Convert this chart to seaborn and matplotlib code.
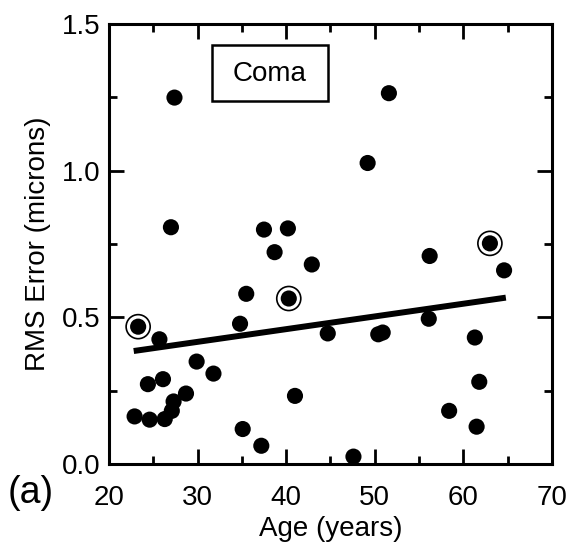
import matplotlib
matplotlib.use("Agg")
import matplotlib.pyplot as plt
from matplotlib.patches import Rectangle
from matplotlib.ticker import MultipleLocator
import seaborn as sns
import pandas as pd

age = [23.3, 25.7, 35.5, 34.8, 40.3, 44.7, 29.9, 31.8, 24.4, 26.1,
       28.7, 27.3, 27.1, 22.9, 24.6, 26.3, 41.0, 35.1, 37.2, 38.7,
       42.9, 27.4, 27.0, 37.5, 40.2, 51.6, 49.2, 63.0, 56.2, 64.6,
       56.1, 50.4, 50.9, 61.3, 61.8, 58.4, 61.5, 47.6]
rms = [0.468, 0.425, 0.580, 0.478, 0.564, 0.445, 0.349, 0.308, 0.272, 0.289,
       0.240, 0.213, 0.181, 0.162, 0.151, 0.153, 0.232, 0.119, 0.062, 0.722,
       0.680, 1.249, 0.807, 0.799, 0.803, 1.264, 1.026, 0.752, 0.709, 0.660,
       0.495, 0.442, 0.448, 0.431, 0.280, 0.181, 0.127, 0.025]
circled = [True, False, False, False, True, False, False, False, False, False,
           False, False, False, False, False, False, False, False, False, False,
           False, False, False, False, False, False, False, True, False, False,
           False, False, False, False, False, False, False, False]

fit_age = [22.8, 64.8]
fit_rms = [0.385, 0.567]

x_ticks = [20, 30, 40, 50, 60, 70]
y_ticks = [0.0, 0.5, 1.0, 1.5]
y_tick_labels = ["0.0", "0.5", "1.0", "1.5"]

df = pd.DataFrame({"age": age, "rms": rms, "circled": circled})
fit = pd.DataFrame({"age": fit_age, "rms": fit_rms})

sns.set_style("ticks")
plt.rcParams["font.family"] = ["Liberation Sans", "DejaVu Sans"]
plt.rcParams["text.color"] = "black"
plt.rcParams["axes.labelcolor"] = "black"
plt.rcParams["xtick.color"] = "black"
plt.rcParams["ytick.color"] = "black"

fig = plt.figure(figsize=(5.72, 5.51), dpi=100)
ax = fig.add_axes([0.1904, 0.158, 0.7745, 0.7985])

sns.lineplot(data=fit, x="age", y="rms", color="black", linewidth=4.3,
             ax=ax, solid_capstyle="butt")
sns.scatterplot(data=df[df["circled"]], x="age", y="rms", s=300,
                facecolor="none", edgecolor="black", linewidth=1.2,
                ax=ax, zorder=3)
sns.scatterplot(data=df, x="age", y="rms", s=135, color="black",
                edgecolor="none", ax=ax, zorder=4)

ax.set_xlim(20, 70)
ax.set_ylim(0, 1.5)
ax.set_xticks(x_ticks)
ax.set_yticks(y_ticks)
ax.set_yticklabels(y_tick_labels)
ax.xaxis.set_minor_locator(MultipleLocator(5))
ax.yaxis.set_minor_locator(MultipleLocator(0.25))
ax.tick_params(which="both", direction="in", top=True, right=True,
               width=2.0, color="black", labelcolor="black")
ax.tick_params(which="major", length=11)
ax.tick_params(which="minor", length=6)
ax.tick_params(axis="x", which="major", labelsize=20, pad=15)
ax.tick_params(axis="y", which="major", labelsize=20, pad=6)
for sp in ax.spines.values():
    sp.set_linewidth(2.2)
    sp.set_color("black")

ax.set_xlabel("Age (years)", fontsize=20, labelpad=4, color="black")
ax.set_ylabel("RMS Error (microns)", fontsize=20, labelpad=8, color="black")

ax.add_patch(Rectangle((0.232, 0.824), 0.263, 0.1286, transform=ax.transAxes,
                       facecolor="white", edgecolor="black", linewidth=1.8,
                       zorder=5))
ax.text(0.3635, 0.887, "Coma", transform=ax.transAxes, ha="center",
        va="center", fontsize=20, color="black", zorder=6)

fig.text(31 / 572, 1 - 493 / 551, "(a)", ha="center", va="center",
         fontsize=27, color="black")

fig.savefig("out.png", dpi=100)
